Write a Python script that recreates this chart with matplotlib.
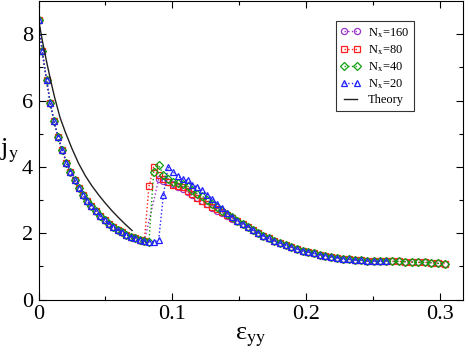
import numpy as np
import matplotlib
matplotlib.use('Agg')
import matplotlib.pyplot as plt

plt.rcParams['font.family'] = ['Liberation Serif', 'DejaVu Serif']
plt.rcParams['mathtext.fontset'] = 'stix'

# strain grid shared by all runs (step grows slowly with strain)
eps = [0.0, 0.0028, 0.0060, 0.0088, 0.0115, 0.0147, 0.0178, 0.0208, 0.0238,
       0.0270, 0.0300, 0.0333, 0.0364, 0.0395, 0.0428, 0.0460, 0.0493,
       0.0525, 0.0558, 0.0590, 0.0623, 0.0656, 0.0690, 0.0723, 0.0757,
       0.0790, 0.0825, 0.0860, 0.0897, 0.0933, 0.0968, 0.1003, 0.1040,
       0.1077, 0.1113, 0.1150, 0.1187, 0.1224, 0.1262, 0.1299, 0.1336,
       0.1374, 0.1411, 0.1448, 0.1486, 0.1524, 0.1563, 0.1601, 0.1640,
       0.1680, 0.1720, 0.1762, 0.1804, 0.1846, 0.1888, 0.1930, 0.1972,
       0.2014, 0.2057, 0.2100, 0.2143, 0.2187, 0.2231, 0.2275, 0.2320,
       0.2365, 0.2410, 0.2456, 0.2502, 0.2548, 0.2595, 0.2642, 0.2690,
       0.2738, 0.2786, 0.2835, 0.2884, 0.2933, 0.2983, 0.3033]

# common branch before the jump (indices 0..25)
j_pre = [8.44, 7.48, 6.61, 5.93, 5.38, 4.89, 4.50, 4.13, 3.85, 3.60, 3.36,
         3.15, 2.97, 2.81, 2.66, 2.53, 2.40, 2.29, 2.20, 2.10, 2.03, 1.96,
         1.90, 1.84, 1.78, 1.75]

# jump region, indices 26..44 (None = no point)
j160_mid = [None, None, 3.62, 3.58, 3.53, 3.47, 3.40, 3.33, 3.24, 3.14,
            3.05, 2.96, 2.87, 2.77, 2.68, 2.60, 2.52, 2.44, 2.36]
j80_mid = [3.41, 3.99, 3.76, 3.64, 3.53, 3.45, 3.42, 3.38, 3.27, 3.17,
           3.07, 2.97, 2.89, 2.80, 2.72, 2.64, 2.56, 2.47, 2.38]
j40_mid = [1.74, 3.84, 4.06, 3.76, 3.64, 3.55, 3.50, 3.48, 3.42, 3.29,
           3.19, 3.11, 3.00, 2.89, 2.78, 2.68, 2.58, 2.48, 2.38]
j20_mid = [1.74, 1.74, 1.78, 3.16, 3.99, 3.86, 3.72, 3.63, 3.59, 3.46,
           3.39, 3.29, 3.16, 3.03, 2.88, 2.76, 2.60, 2.50, 2.38]

# common tail, indices 45..79
j_tail = [2.29, 2.20, 2.10, 2.01, 1.92, 1.84, 1.77, 1.70, 1.64, 1.58, 1.53,
          1.47, 1.43, 1.39, 1.35, 1.32, 1.29, 1.26, 1.23, 1.21, 1.19, 1.18,
          1.16, 1.16, 1.16, 1.16, 1.15, 1.15, 1.14, 1.13, 1.12, 1.12, 1.11,
          1.09, 1.08]

n_last = {'160': 80, '80': 80, '40': 80, '20': 71}

eps_theory = [0.0, 0.003, 0.006, 0.009, 0.012, 0.016, 0.020, 0.025, 0.030,
              0.035, 0.040, 0.045, 0.050, 0.055, 0.060, 0.065, 0.0699]
j_theory = [8.44, 7.78, 7.18, 6.62, 6.10, 5.50, 5.05, 4.55, 4.10, 3.73,
            3.42, 3.15, 2.90, 2.67, 2.46, 2.26, 2.08]

labels = ['160', '80', '40', '20']
colors = ['#9933cc', '#ff2020', '#10a010', '#2020ff']
markers = ['o', 's', 'D', '^']
mids = [j160_mid, j80_mid, j40_mid, j20_mid]


def series(mid, n):
    ys = j_pre + mid + j_tail
    pts = [(e, y) for e, y in zip(eps[:n], ys[:n]) if y is not None]
    return [p[0] for p in pts], [p[1] for p in pts]


fig = plt.figure(figsize=(4.69, 3.55), dpi=100)
ax = fig.add_axes([0.0821, 0.1563, 0.905, 0.8407])

for lab, col, mk, mid in zip(labels, colors, markers, mids):
    x, y = series(mid, n_last[lab])
    ax.plot(x, y, linestyle=':', color=col, lw=1.0, marker=mk,
            ms=4.4 if mk != 'D' else 3.8, mfc='none', mec=col, mew=0.9,
            label='N$_\\mathrm{x}$=' + lab)

ax.plot(eps_theory, j_theory, color='#202020', lw=1.0, label='Theory')

ax.set_xlim(0, 0.317)
ax.set_ylim(0, 9)
ax.set_xticks([0, 0.1, 0.2, 0.3])
ax.set_xticklabels(['0', '0.1', '0.2', '0.3'])
ax.set_xticks([0.05, 0.15, 0.25], minor=True)
ax.set_yticks([0, 2, 4, 6, 8])
ax.set_yticks([1, 3, 5, 7], minor=True)
ax.tick_params(which='both', direction='in', top=True, right=True,
               labelsize=16, width=0.8)
ax.tick_params(which='major', length=5, pad=4)
ax.tick_params(which='minor', length=3)
for s in ax.spines.values():
    s.set_linewidth(0.8)

ax.set_xlabel('ε$_\\mathrm{yy}$', fontsize=19, labelpad=1)
ax.set_ylabel('j$_\\mathrm{y}$', fontsize=19, rotation=0)
ax.yaxis.set_label_coords(-0.068, 0.45)

leg = ax.legend(loc='upper right', bbox_to_anchor=(0.884, 0.932),
                fontsize=9, frameon=True, fancybox=False, numpoints=2,
                handlelength=1.6, handletextpad=0.6, borderpad=0.35,
                labelspacing=0.27, borderaxespad=0)
leg.get_frame().set_edgecolor('black')
leg.get_frame().set_linewidth(0.8)

fig.savefig('out.png', dpi=100)
